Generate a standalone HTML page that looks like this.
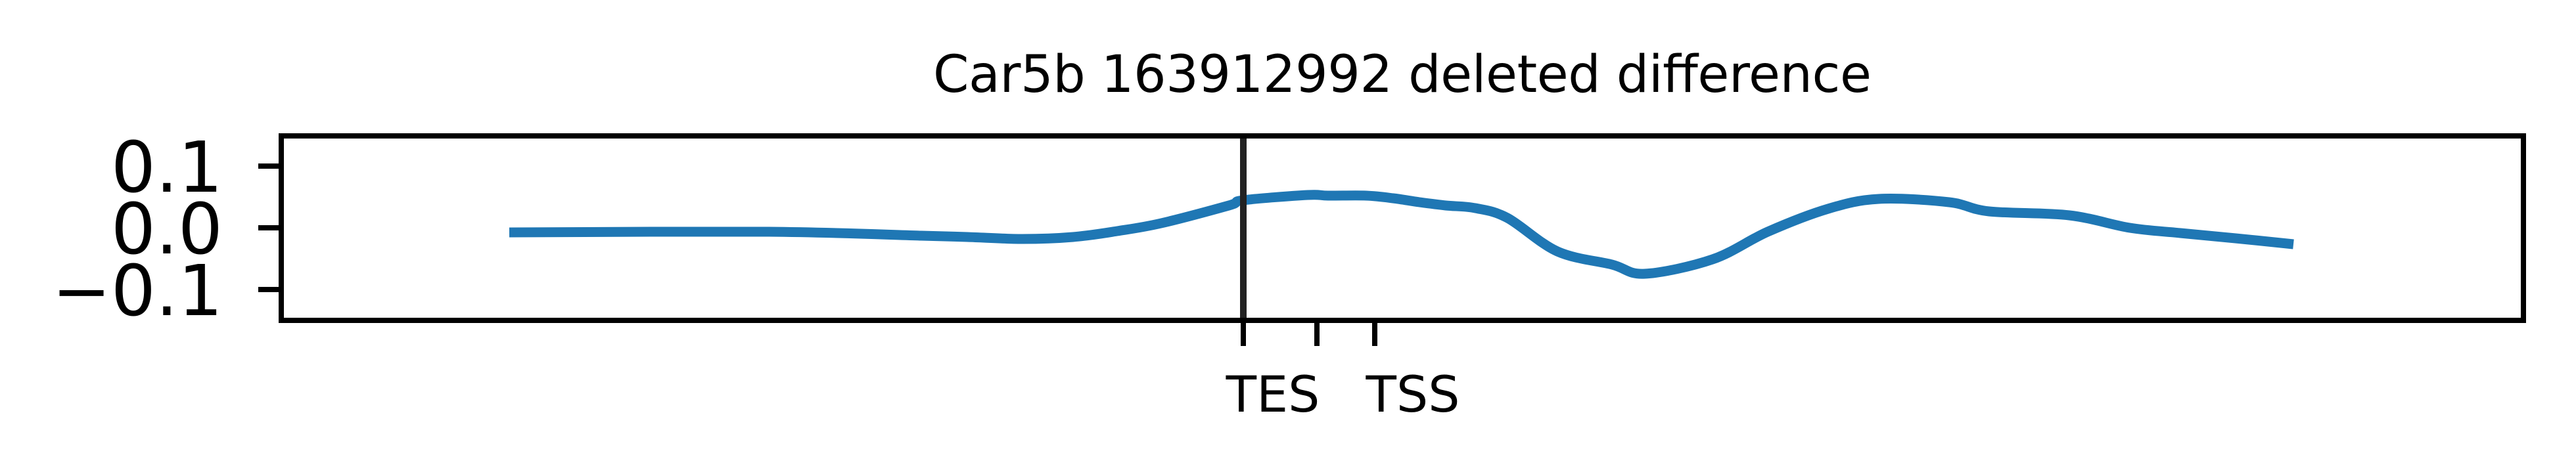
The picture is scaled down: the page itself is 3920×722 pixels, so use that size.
<!DOCTYPE html>
<html><head><meta charset="utf-8"><style>
html,body{margin:0;padding:0;background:#fff;}
svg{display:block;font-family:"DejaVu Sans","Liberation Sans",sans-serif;}
</style></head><body>
<svg id="chart" width="3920" height="722" viewBox="0 0 3920 722">
<text x="2134" y="140" font-size="78" text-anchor="middle" textLength="1428">Car5b 163912992 deleted difference</text>
<g id="plot"></g>
</svg>
<script>
const xPos = [347,742,974,1044,1128,1205,1272,1339,1442,1464,1562,1593,1651,1692,1732,1772,1817,1866,1942,2025,2075,2178,2262,2354,2431,2538,2599,2721,2813,2890,2974,3062];
const yVals = [-0.0074,-0.0064,-0.0128,-0.0149,-0.0181,-0.0149,-0.0053,0.0074,0.0362,0.0447,0.0532,0.0521,0.0521,0.0479,0.0415,0.0362,0.0319,0.0160,-0.0383,-0.0596,-0.0745,-0.0511,-0.0064,0.0309,0.0468,0.0415,0.0266,0.0202,0.0000,-0.0085,-0.0170,-0.0266];
const yTicks = [0.1, 0.0, -0.1];
const yTickLabels = ["0.1", "0.0", "\u22120.1"];
const markerPos = [1464, 1576, 1664];
const markerLabels = ["TES", "TSS"];

const L=428,R=3840,T=207,B=488;
const X = u => L + u*(R-L)/3412;
const Y = v => 347 - v*940;
const NS="http://www.w3.org/2000/svg";
const g=document.getElementById('plot');
function mk(tag, attrs){const e=document.createElementNS(NS,tag);for(const k in attrs)e.setAttribute(k,attrs[k]);g.appendChild(e);return e;}

const P=xPos.map((u,i)=>[X(u),Y(yVals[i])]);
let d='M'+P[0][0].toFixed(1)+','+P[0][1].toFixed(1);
for(let i=0;i<P.length-1;i++){
  const p0=P[Math.max(0,i-1)],p1=P[i],p2=P[i+1],p3=P[Math.min(P.length-1,i+2)];
  const c1=[p1[0]+(p2[0]-p0[0])/6,p1[1]+(p2[1]-p0[1])/6];
  const c2=[p2[0]-(p3[0]-p1[0])/6,p2[1]-(p3[1]-p1[1])/6];
  d+=' C'+c1.map(n=>n.toFixed(1)).join(',')+' '+c2.map(n=>n.toFixed(1)).join(',')+' '+p2.map(n=>n.toFixed(1)).join(',');
}
const line=mk('path',{d:d,fill:'none',stroke:'#1f77b4','stroke-width':15,'stroke-linejoin':'round'});



const vl=mk('line',{x1:X(markerPos[0]),x2:X(markerPos[0]),y1:T,y2:B,stroke:'#222','stroke-width':10});



const frame=mk('rect',{x:L,y:T,width:R-L,height:B-T,fill:'none',stroke:'#000','stroke-width':8});



yTicks.forEach((v,i)=>{
  const t=mk('line',{x1:L-35,x2:L,y1:Y(v),y2:Y(v),stroke:'#000','stroke-width':8});
  
  
  const tx=mk('text',{x:L-89,y:Y(v)+39,'font-size':107,'text-anchor':'end'});
  tx.textContent=yTickLabels[i];
  
  
});
markerPos.forEach(u=>{
  const t=mk('line',{x1:X(u),x2:X(u),y1:B,y2:B+39,stroke:'#000','stroke-width':8});
  
  
});
const lblX=[1937,2150];
markerLabels.forEach((s,i)=>{
  const tx=mk('text',{x:lblX[i],y:627,'font-size':76,'text-anchor':'middle'});
  tx.textContent=s;
  
  
});
</script>
</body></html>
